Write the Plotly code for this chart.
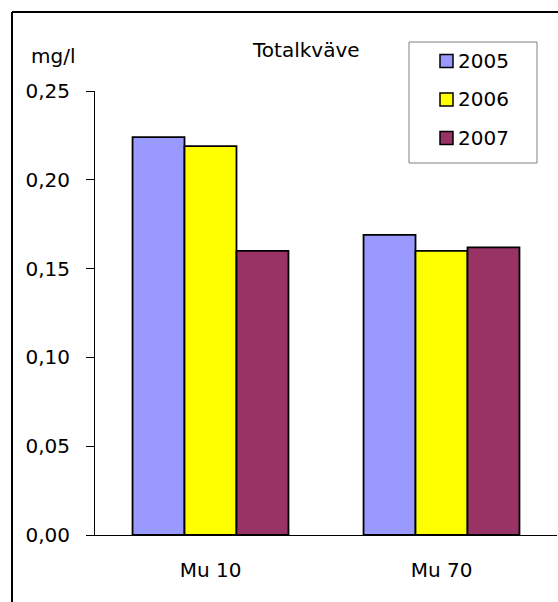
import plotly.graph_objects as go

# Total nitrogen (mg/l) per station and year
stations = ["Mu 10", "Mu 70"]
years = ["2005", "2006", "2007"]
values_2005 = [0.224, 0.169]
values_2006 = [0.219, 0.160]
values_2007 = [0.160, 0.162]
series = [values_2005, values_2006, values_2007]
colors = ["#9999FF", "#FFFF00", "#993366"]

W, H = 558, 602
ML, MR, MT, MB = 95, 1, 91, 67
PW, PH = W - ML - MR, H - MT - MB

FONT = dict(family="DejaVu Sans", size=20, color="black")


def fx(p):
    """pixel x -> paper x"""
    return (p - ML) / PW


def fy(p):
    """pixel y -> paper y"""
    return (H - MB - p) / PH


fig = go.Figure()
for name, vals, col in zip(years, series, colors):
    fig.add_trace(go.Bar(
        x=stations, y=vals, name=name,
        marker=dict(color=col, line=dict(color="black", width=1.8)),
        showlegend=False,
    ))

shapes = []
annotations = []

# outer chart frame (left and top edges)
shapes.append(dict(type="line", xref="paper", yref="paper",
                   x0=fx(12), x1=fx(12), y0=fy(12), y1=fy(620),
                   line=dict(color="black", width=2)))
shapes.append(dict(type="line", xref="paper", yref="paper",
                   x0=fx(12), x1=fx(570), y0=fy(12), y1=fy(12),
                   line=dict(color="black", width=2)))

# legend box
shapes.append(dict(type="rect", xref="paper", yref="paper",
                   x0=fx(409), x1=fx(537), y0=fy(42), y1=fy(163),
                   line=dict(color="#808080", width=1), fillcolor="white"))
for i, (name, col) in enumerate(zip(years, colors)):
    cy = 61 + i * 38.5
    shapes.append(dict(type="rect", xref="paper", yref="paper",
                       x0=fx(440), x1=fx(453), y0=fy(cy - 6.5), y1=fy(cy + 6.5),
                       line=dict(color="black", width=1.5), fillcolor=col))
    annotations.append(dict(text=name, xref="paper", yref="paper",
                            x=fx(456), y=fy(cy), xanchor="left", yanchor="middle",
                            showarrow=False, font=FONT))

# unit label
annotations.append(dict(text="mg/l", xref="paper", yref="paper",
                        x=fx(53), y=fy(56), xanchor="center", yanchor="middle",
                        showarrow=False, font=FONT))
# title
annotations.append(dict(text="Totalkväve", xref="paper", yref="paper",
                        x=fx(306), y=fy(50), xanchor="center", yanchor="middle",
                        showarrow=False, font=FONT))

fig.update_layout(
    width=W, height=H,
    margin=dict(l=ML, r=MR, t=MT, b=MB, pad=0),
    paper_bgcolor="white", plot_bgcolor="white",
    barmode="group", bargap=0.325, bargroupgap=0,
    separators=",.",
    font=FONT,
    shapes=shapes,
    annotations=annotations,
    showlegend=False,
)
fig.update_yaxes(
    range=[0, 0.25], dtick=0.05, tick0=0, tickformat=".2f",
    showgrid=False, zeroline=False,
    showline=True, linecolor="black", linewidth=1,
    ticks="outside", ticklen=8, tickwidth=1, tickcolor="black",
    ticklabelstandoff=12, tickfont=FONT,
)
fig.update_xaxes(
    range=[-0.5, 1.5],
    showgrid=False, zeroline=False,
    showline=True, linecolor="black", linewidth=1,
    ticks="", ticklabelstandoff=17, tickfont=FONT,
)

fig.write_html("out.html")
